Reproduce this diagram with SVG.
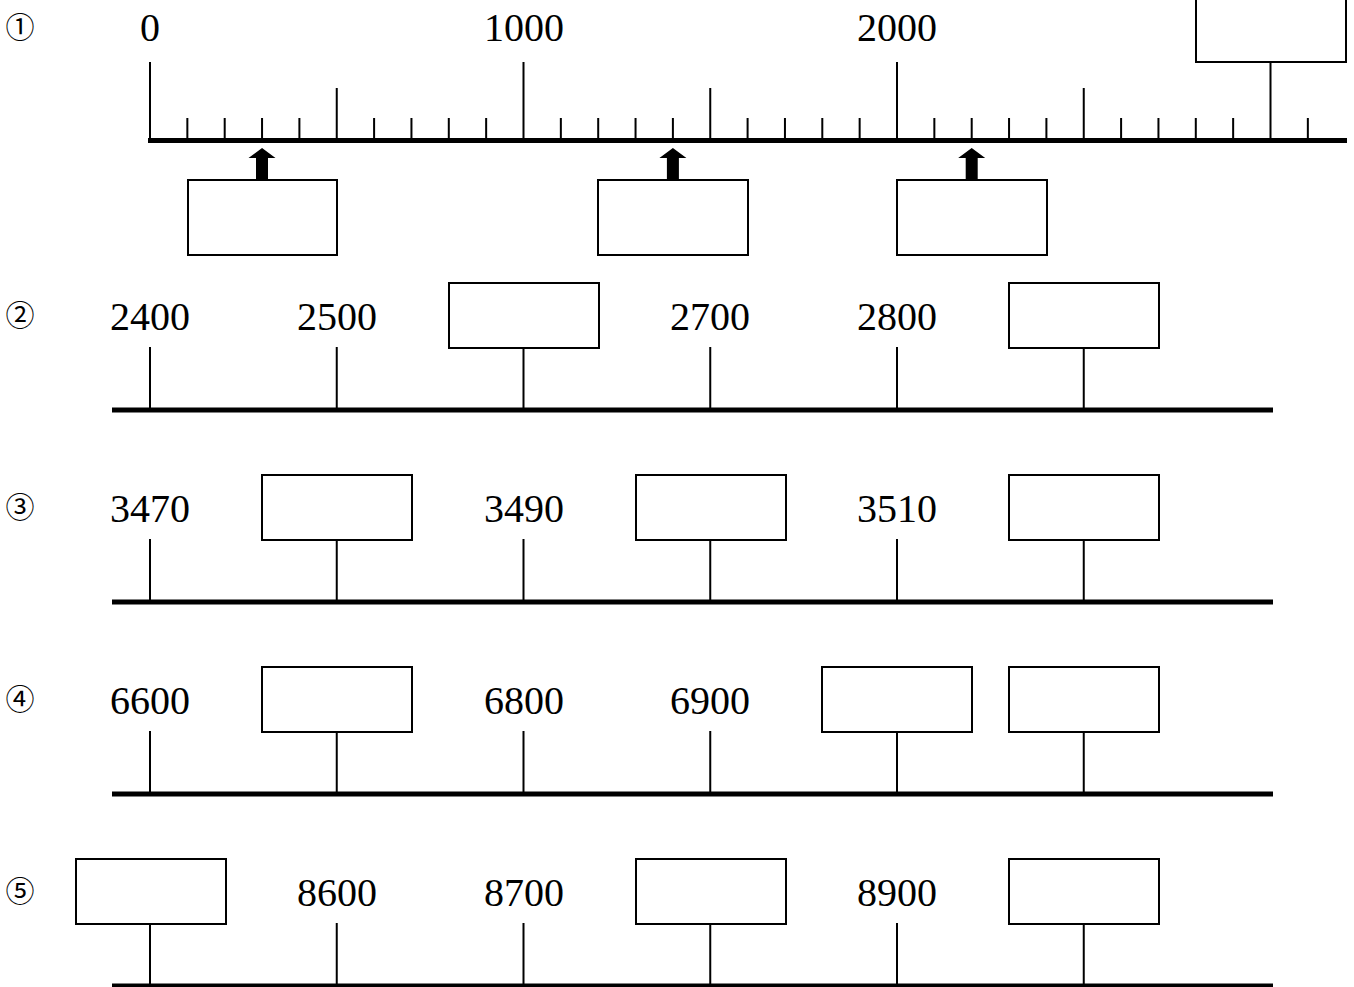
<svg xmlns="http://www.w3.org/2000/svg" width="1354" height="987" viewBox="0 0 1354 987">
<style>
.bg{fill:#fff}
.num{font-family:'Liberation Serif','DejaVu Serif',serif;font-size:40px;fill:#000;text-anchor:middle}
.lbl{font-family:'Noto Sans CJK JP','DejaVu Sans',sans-serif;font-size:29px;fill:#000;text-anchor:middle}
.base{stroke:#000;stroke-width:5;fill:none}
.tick{stroke:#000;stroke-width:2;fill:none}
.box{fill:#fff;stroke:#000;stroke-width:2}
.arr{fill:#000}
</style>
<rect class="bg" x="0" y="0" width="1354" height="987"/>

<g id="row1">
<text class="lbl" x="20" y="38">①</text>
<text class="num" x="150" y="41" font-family="Liberation Serif, serif">0</text>
<text class="num" x="524" y="41" font-family="Liberation Serif, serif">1000</text>
<text class="num" x="897" y="41" font-family="Liberation Serif, serif">2000</text>
<line class="base" x1="148" y1="140.5" x2="1347" y2="140.5"/>
<g id="row1-ticks">
<path class="tick" d="M150,62V140 M523.5,62V140 M897,62V140 M1270.5,62V140
M336.75,88V140 M710.25,88V140 M1083.75,88V140
M187.35,118V140 M224.7,118V140 M262.05,118V140 M299.4,118V140
M374.1,118V140 M411.45,118V140 M448.8,118V140 M486.15,118V140
M560.85,118V140 M598.2,118V140 M635.55,118V140 M672.9,118V140
M747.6,118V140 M784.95,118V140 M822.3,118V140 M859.65,118V140
M934.35,118V140 M971.7,118V140 M1009.05,118V140 M1046.4,118V140
M1121.1,118V140 M1158.45,118V140 M1195.8,118V140 M1233.15,118V140
M1307.85,118V140"/>
</g>
<rect id="box1-top" class="box" x="1196" y="-3" width="150" height="65"/>
<g id="arrows1">
<path class="arr" d="M262.05,148 L275.5,158 L268,158 L268,180 L256,180 L256,158 L248.5,158 Z"/>
<path class="arr" d="M672.9,148 L686.4,158 L678.9,158 L678.9,180 L666.9,180 L666.9,158 L659.4,158 Z"/>
<path class="arr" d="M971.7,148 L985.2,158 L977.7,158 L977.7,180 L965.7,180 L965.7,158 L958.2,158 Z"/>
</g>
<rect id="box1-a" class="box" x="188" y="180" width="149" height="75"/>
<rect id="box1-b" class="box" x="598" y="180" width="150" height="75"/>
<rect id="box1-c" class="box" x="897" y="180" width="150" height="75"/>
</g>

<g id="row2">
<text class="lbl" x="20" y="326">②</text>
<text class="num" x="150" y="330" font-family="Liberation Serif, serif">2400</text>
<text class="num" x="337" y="330" font-family="Liberation Serif, serif">2500</text>
<text class="num" x="710" y="330" font-family="Liberation Serif, serif">2700</text>
<text class="num" x="897" y="330" font-family="Liberation Serif, serif">2800</text>
<line class="base" x1="112" y1="410" x2="1273" y2="410"/>
<path class="tick" d="M150,347V410 M336.75,347V410 M523.5,347V410 M710.25,347V410 M897,347V410 M1083.75,347V410"/>
<rect class="box" x="449" y="283" width="150" height="65"/>
<rect class="box" x="1009" y="283" width="150" height="65"/>
</g>

<g id="row3">
<text class="lbl" x="20" y="518">③</text>
<text class="num" x="150" y="522" font-family="Liberation Serif, serif">3470</text>
<text class="num" x="524" y="522" font-family="Liberation Serif, serif">3490</text>
<text class="num" x="897" y="522" font-family="Liberation Serif, serif">3510</text>
<line class="base" x1="112" y1="602" x2="1273" y2="602"/>
<path class="tick" d="M150,539V602 M336.75,539V602 M523.5,539V602 M710.25,539V602 M897,539V602 M1083.75,539V602"/>
<rect class="box" x="262" y="475" width="150" height="65"/>
<rect class="box" x="636" y="475" width="150" height="65"/>
<rect class="box" x="1009" y="475" width="150" height="65"/>
</g>

<g id="row4">
<text class="lbl" x="20" y="710">④</text>
<text class="num" x="150" y="714" font-family="Liberation Serif, serif">6600</text>
<text class="num" x="524" y="714" font-family="Liberation Serif, serif">6800</text>
<text class="num" x="710" y="714" font-family="Liberation Serif, serif">6900</text>
<line class="base" x1="112" y1="794" x2="1273" y2="794"/>
<path class="tick" d="M150,731V794 M336.75,731V794 M523.5,731V794 M710.25,731V794 M897,731V794 M1083.75,731V794"/>
<rect class="box" x="262" y="667" width="150" height="65"/>
<rect class="box" x="822" y="667" width="150" height="65"/>
<rect class="box" x="1009" y="667" width="150" height="65"/>
</g>

<g id="row5">
<text class="lbl" x="20" y="902">⑤</text>
<text class="num" x="337" y="906" font-family="Liberation Serif, serif">8600</text>
<text class="num" x="524" y="906" font-family="Liberation Serif, serif">8700</text>
<text class="num" x="897" y="906" font-family="Liberation Serif, serif">8900</text>
<line class="base" x1="112" y1="986" x2="1273" y2="986"/>
<path class="tick" d="M150,923V986 M336.75,923V986 M523.5,923V986 M710.25,923V986 M897,923V986 M1083.75,923V986"/>
<rect class="box" x="76" y="859" width="150" height="65"/>
<rect class="box" x="636" y="859" width="150" height="65"/>
<rect class="box" x="1009" y="859" width="150" height="65"/>
</g>
</svg>
